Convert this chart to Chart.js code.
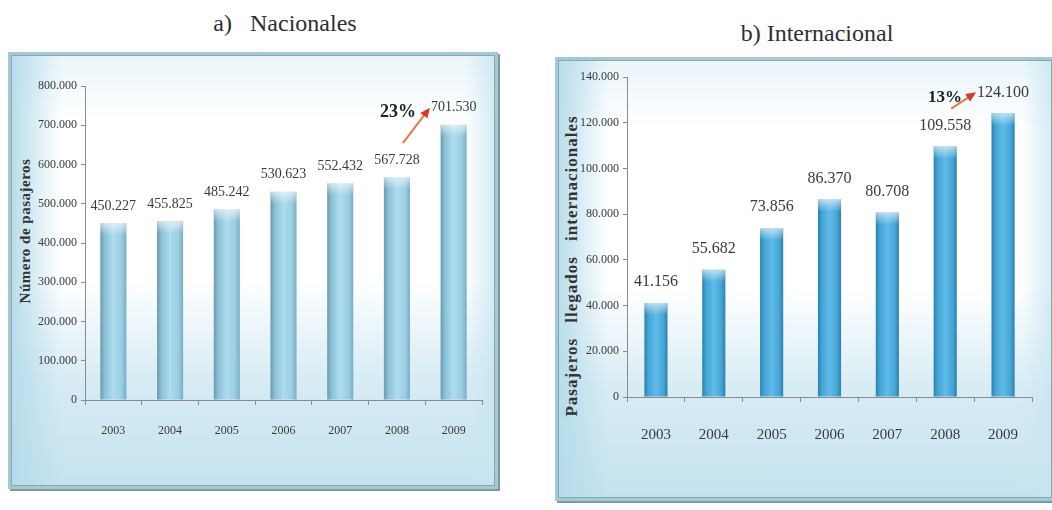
<!DOCTYPE html>
<html>
<head>
<meta charset="utf-8">
<script src="https://cdn.jsdelivr.net/npm/chart.js@4.4.1/dist/chart.umd.min.js"></script>
<style>
  body { margin: 0; width: 1052px; height: 510px; background: #fff; overflow: hidden; position: relative; font-family: "Liberation Serif", serif; }
  .title { position: absolute; transform: translate(-50%, -50%); font-size: 24px; color: #2f2f2f; white-space: nowrap; }
  .panel {
    position: absolute; box-sizing: border-box;
    border: 3px solid #a5c8d1;
    box-shadow: inset 0 0 0 1px #86a8b1, 2px 2px 0 #7c9aa3;
    background:
      linear-gradient(to right, rgba(180,219,234,0.95) 0px, rgba(180,219,234,0) 50px),
      linear-gradient(to left, rgba(200,229,240,0.8) 0px, rgba(200,229,240,0) 30px),
      linear-gradient(to bottom, #eaf5f9 0%, #ffffff 16%, #ffffff 52%, #d8ecf4 75%, #c4e2ee 100%);
  }
  .ytitle { position: absolute; transform: translate(-50%, -50%) rotate(-90deg); font-weight: bold; color: #333; white-space: nowrap; }
  canvas { position: absolute; }
</style>
</head>
<body>
<div class="title" style="left:285px; top:23px;">a)&nbsp;&nbsp; Nacionales</div>
<div class="title" style="left:817px; top:33px;">b) Internacional</div>

<div class="panel" style="left:8px; top:52px; width:490px; height:437px;"></div>
<div class="panel" style="left:555px; top:57px; width:500px; height:444px;"></div>

<div class="ytitle" style="left:25px; top:231px; font-size:15px; letter-spacing:0.5px;">Número de pasajeros</div>
<div class="ytitle" style="left:572px; top:266px; font-size:17px; letter-spacing:1px; word-spacing:10px;">Pasajeros llegados internacionales</div>

<canvas id="nacChart" width="485" height="432" style="left:10px; top:54px;"></canvas>
<canvas id="intChart" width="493" height="438" style="left:557px; top:59px;"></canvas>

<script>
// passenger counts per year
const years = ['2003', '2004', '2005', '2006', '2007', '2008', '2009'];
const nacionales = [450227, 455825, 485242, 530623, 552432, 567728, 701530];
const internacionales = [41156, 55682, 73856, 86370, 80708, 109558, 124100];

// axis ranges
const nacAxis = [0, 800000, 100000];
const intAxis = [0, 140000, 20000];

// growth 2008 -> 2009
const nacGrowth = '23%';
const intGrowth = '13%';

// thousands with a dot, as printed
const fmt = v => String(v).replace(/\B(?=(\d{3})+(?!\d))/g, '.');

// value labels, top sheen on bars and the growth arrow
const barNotes = {
  id: 'barNotes',
  afterDatasetsDraw(chart, args, opts) {
    const ctx = chart.ctx;
    const meta = chart.getDatasetMeta(0);
    const values = chart.data.datasets[0].data;
    ctx.save();

    meta.data.forEach(bar => {
      const w = bar.width;
      const g = ctx.createLinearGradient(0, bar.y, 0, bar.y + 12);
      g.addColorStop(0, 'rgba(255,255,255,0.6)');
      g.addColorStop(1, 'rgba(255,255,255,0)');
      ctx.fillStyle = g;
      ctx.fillRect(bar.x - w / 2, bar.y, w, 12);
    });

    ctx.font = opts.font;
    ctx.fillStyle = '#3a3a3a';
    ctx.textAlign = 'center';
    ctx.textBaseline = 'middle';
    const pos = meta.data.map(bar => ({ x: bar.x, y: bar.y - opts.gap }));
    meta.data.forEach((bar, i) => ctx.fillText(fmt(values[i]), pos[i].x, pos[i].y));

    const n = values.length;
    const last = pos[n - 1], prev = pos[n - 2];
    const lw = ctx.measureText(fmt(values[n - 1])).width;
    const tip = { x: last.x - lw / 2 - 1, y: last.y };
    const start = { x: prev.x + 6, y: prev.y - 17 };
    const ang = Math.atan2(tip.y - start.y, tip.x - start.x);

    ctx.strokeStyle = '#e07a45';
    ctx.lineWidth = 2;
    ctx.beginPath();
    ctx.moveTo(start.x, start.y);
    ctx.lineTo(tip.x - 6 * Math.cos(ang), tip.y - 6 * Math.sin(ang));
    ctx.stroke();

    ctx.fillStyle = '#e2352a';
    ctx.beginPath();
    ctx.moveTo(tip.x, tip.y);
    ctx.lineTo(tip.x - 10 * Math.cos(ang) + 4.5 * Math.sin(ang), tip.y - 10 * Math.sin(ang) - 4.5 * Math.cos(ang));
    ctx.lineTo(tip.x - 10 * Math.cos(ang) - 4.5 * Math.sin(ang), tip.y - 10 * Math.sin(ang) + 4.5 * Math.cos(ang));
    ctx.closePath();
    ctx.fill();

    ctx.font = opts.pctFont;
    ctx.fillStyle = '#222';
    ctx.textAlign = 'right';
    ctx.fillText(opts.pct, tip.x - 14, tip.y + 5);
    ctx.restore();
  }
};

function barFill(stops) {
  return ctx => {
    const chart = ctx.chart;
    if (!chart.chartArea) return stops[2];
    const xs = chart.scales.x;
    const ds = chart.data.datasets[0];
    const w = (xs.width / chart.data.labels.length) * ds.barPercentage;
    const cx = xs.getPixelForValue(ctx.dataIndex);
    const g = chart.ctx.createLinearGradient(cx - w / 2, 0, cx + w / 2, 0);
    g.addColorStop(0, stops[0]);
    g.addColorStop(0.18, stops[1]);
    g.addColorStop(0.5, stops[2]);
    g.addColorStop(0.82, stops[3]);
    g.addColorStop(1, stops[4]);
    return g;
  };
}

function makeChart(id, values, axis, s) {
  return new Chart(document.getElementById(id), {
    type: 'bar',
    data: {
      labels: years,
      datasets: [{
        data: values,
        backgroundColor: barFill(s.colors),
        categoryPercentage: 1,
        barPercentage: s.barPct,
        borderWidth: 0
      }]
    },
    options: {
      responsive: false,
      devicePixelRatio: 1,
      animation: false,
      layout: { padding: s.padding },
      plugins: {
        legend: { display: false },
        tooltip: { enabled: false },
        barNotes: { font: s.labelFont, gap: s.gap, pct: s.pct, pctFont: s.pctFont }
      },
      scales: {
        x: {
          afterFit: sc => { sc.height = s.xHeight; },
          grid: { drawOnChartArea: false, drawTicks: true, tickLength: 5, color: '#8a8a8a', offset: true },
          border: { color: '#8a8a8a' },
          ticks: { color: '#3a3a3a', font: { family: '"Liberation Serif", serif', size: s.xFont }, padding: s.xPad }
        },
        y: {
          min: axis[0], max: axis[1],
          afterFit: sc => { sc.width = s.yWidth; },
          grid: { drawOnChartArea: false, drawTicks: true, tickLength: 4, color: '#8a8a8a' },
          border: { color: '#8a8a8a' },
          ticks: { stepSize: axis[2], color: '#3a3a3a', font: { family: '"Liberation Serif", serif', size: 12 }, padding: 4, callback: v => fmt(v) }
        }
      }
    },
    plugins: [barNotes]
  });
}

makeChart('nacChart', nacionales, nacAxis, {
  colors: ['#6a9bab', '#8cc2d8', '#afdcee', '#9acde3', '#78adc2'],
  barPct: 0.46,
  padding: { left: 0, top: 32, right: 13, bottom: 46 },
  xHeight: 40, yWidth: 75, xFont: 12, xPad: 19,
  labelFont: '14px "Liberation Serif"', gap: 17,
  pct: nacGrowth, pctFont: 'bold 18px "Liberation Serif"'
});

makeChart('intChart', internacionales, intAxis, {
  colors: ['#2c82ae', '#44a5d7', '#60bbe7', '#46a6d8', '#2d80ab'],
  barPct: 0.4,
  padding: { left: 0, top: 18, right: 18, bottom: 50 },
  xHeight: 50, yWidth: 70, xFont: 15, xPad: 24,
  labelFont: '16px "Liberation Serif"', gap: 21,
  pct: intGrowth, pctFont: 'bold 17px "Liberation Serif"'
});
</script>
</body>
</html>
